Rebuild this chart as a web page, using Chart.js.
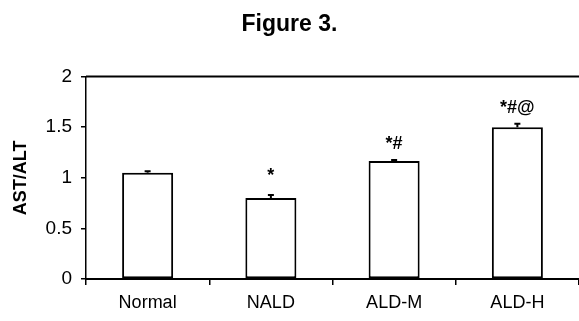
<!DOCTYPE html>
<html>
<head>
<meta charset="utf-8">
<script src="https://cdn.jsdelivr.net/npm/chart.js@4/dist/chart.umd.min.js"></script>
<style>
  html, body { margin: 0; padding: 0; background: #fff; }
</style>
</head>
<body>
<canvas id="astChart" width="579" height="321"></canvas>
<script>
// AST/ALT ratio by group
const groups = ['Normal', 'NALD', 'ALD-M', 'ALD-H'];
const ratios = [1.05, 0.80, 1.165, 1.50];
const errors = [0.015, 0.03, 0.012, 0.035];
const marks = ['', '*', '*#', '*#@'];
const yTicks = [0, 0.5, 1, 1.5, 2];

const font = 'Liberation Sans, Arial, sans-serif';

// error caps, significance marks and the top frame line
const extras = {
    id: 'extras',
    afterDatasetsDraw(chart) {
        const ctx = chart.ctx;
        const x = chart.scales.x, y = chart.scales.y;
        const area = chart.chartArea;
        ctx.save();
        ctx.strokeStyle = '#000';
        ctx.lineWidth = 2;
        ctx.beginPath();
        ctx.moveTo(area.left, area.top);
        ctx.lineTo(chart.width, area.top);
        ctx.stroke();

        ctx.fillStyle = '#000';
        ctx.textAlign = 'center';
        ctx.textBaseline = 'middle';
        ctx.font = 'bold 18px ' + font;
        ratios.forEach((v, i) => {
            const cx = x.getPixelForValue(i);
            const top = y.getPixelForValue(v + errors[i]);
            ctx.lineWidth = 2;
            ctx.beginPath();
            ctx.moveTo(cx, y.getPixelForValue(v));
            ctx.lineTo(cx, top);
            ctx.moveTo(cx - 3, top);
            ctx.lineTo(cx + 3, top);
            ctx.stroke();
            if (marks[i]) ctx.fillText(marks[i], cx, top - (marks[i] === '*' ? 19 : 16));
        });
        ctx.restore();
    }
};

const astCtx = document.getElementById('astChart').getContext('2d');
const astChart = new Chart(astCtx, {
    type: 'bar',
    data: {
        labels: groups,
        datasets: [{
            label: 'AST/ALT',
            data: ratios,
            backgroundColor: '#fff',
            borderColor: '#000',
            borderWidth: 2,
            borderSkipped: false,
            categoryPercentage: 1,
            barPercentage: 0.414
        }]
    },
    options: {
        responsive: false,
        animation: false,
        layout: { padding: 0 },
        plugins: {
            legend: { display: false },
            tooltip: { enabled: false },
            title: {
                display: true,
                text: 'Figure 3.',
                color: '#000',
                font: { family: font, size: 23, weight: 'bold' },
                padding: { top: 11, bottom: 38 }
            }
        },
        scales: {
            x: {
                afterFit: axis => { axis.height = 42; },
                grid: { display: true, drawOnChartArea: false, offset: true, tickLength: 6, color: '#000', lineWidth: 1.5 },
                border: { display: true, color: '#000', width: 2 },
                ticks: { color: '#000', font: { family: font, size: 18 }, padding: 7 }
            },
            y: {
                min: 0,
                max: 2,
                afterBuildTicks: axis => { axis.ticks = yTicks.map(v => ({ value: v })); },
                afterFit: axis => { axis.width = 86; },
                grid: { display: true, drawOnChartArea: false, tickLength: 5, color: '#000', lineWidth: 1.5 },
                border: { display: true, color: '#000', width: 1.5 },
                ticks: { color: '#000', font: { family: font, size: 19 }, padding: 9, callback: v => String(v) },
                title: {
                    display: true,
                    text: 'AST/ALT',
                    color: '#000',
                    font: { family: font, size: 18, weight: 'bold' },
                    padding: { top: 10, bottom: 0 }
                }
            }
        }
    },
    plugins: [extras]
});
</script>
</body>
</html>
